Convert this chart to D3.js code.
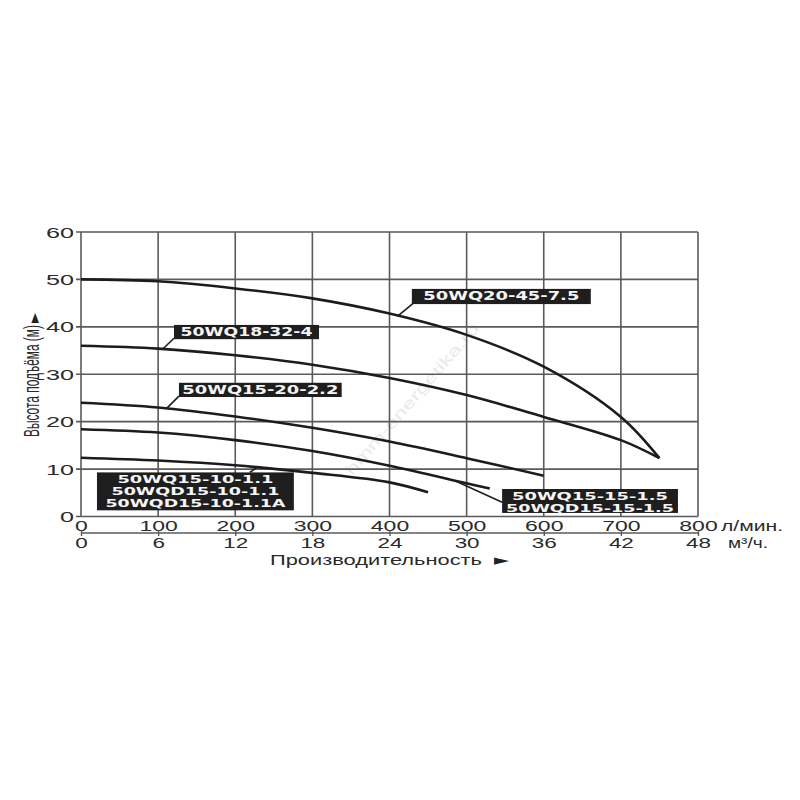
<!DOCTYPE html>
<html><head><meta charset="utf-8">
<script src="https://cdn.jsdelivr.net/npm/d3@7"></script>
<style>
html,body{margin:0;padding:0;background:#fff;}
svg{display:block;}
</style></head>
<body>
<svg id="chart" width="800" height="800"></svg>
<script>
// ---- data ----
const flowTicks = [0,100,200,300,400,500,600,700,800];      // л/мин
const m3hTicks  = [0,6,12,18,24,30,36,42,48];               // м³/ч
const headTicks = [0,10,20,30,40,50,60];                    // м

const curve1Name = "50WQ20-45-7.5";
const curve1Flow = [0,100,200,300,400,500,600,700,750];
const curve1Head = [50,49.6,48.1,46.0,42.8,38.3,31.6,21.0,12.3];

const curve2Name = "50WQ18-32-4";
const curve2Flow = [0,100,200,300,400,500,600,700,750];
const curve2Head = [36,35.4,34.0,32.0,29.2,25.6,21.0,16.1,12.3];

const curve3Name = "50WQ15-20-2.2";
const curve3Flow = [0,100,200,300,400,500,600];
const curve3Head = [24,23.0,21.1,18.7,15.8,12.3,8.6];

const curve4Names = ["50WQ15-15-1.5","50WQD15-15-1.5"];
const curve4Flow = [0,100,200,300,400,500,530];
const curve4Head = [18.4,17.7,16.1,13.8,10.7,7.0,5.9];

const curve5Names = ["50WQ15-10-1.1","50WQD15-10-1.1","50WQD15-10-1.1A"];
const curve5Flow = [0,100,200,300,400,450];
const curve5Head = [12.4,11.8,10.8,9.2,7.2,5.1];

const yTitle = "Высота подъёма (м)";
const xTitle = "Производительность";
const unitFlow = "л/мин.";
const unitM3h = "м³/ч.";
const watermark = "hmm-energetika.ru";

// ---- layout ----
const svg = d3.select("#chart");
const x = d3.scaleLinear().domain([0,800]).range([81,698]);
const y = d3.scaleLinear().domain([0,60]).range([516.5,232]);
const gridColor = "#5a5a5a";
const lineColor = "#1c1c1c";
const textColor = "#2a2a2a";
const fontSans = "'Liberation Sans', Arial, 'DejaVu Sans', sans-serif";

// watermark
svg.append("text")
  .attr("transform","translate(352,476) rotate(-49)")
  .attr("font-family",fontSans).attr("font-size",15)
  .attr("fill","#e9e9e9")
  .attr("textLength",195).attr("lengthAdjust","spacingAndGlyphs")
  .text(watermark);

// grid
const grid = svg.append("g");
grid.selectAll("line.v").data(flowTicks).join("line")
  .attr("x1",d=>x(d)).attr("x2",d=>x(d))
  .attr("y1",y(60)).attr("y2",y(0))
  .attr("stroke",gridColor).attr("stroke-width",1.6);
grid.selectAll("line.h").data(headTicks).join("line")
  .attr("x1",x(0)-5).attr("x2",x(800))
  .attr("y1",d=>y(d)).attr("y2",d=>y(d))
  .attr("stroke",gridColor).attr("stroke-width",1.6);

// y tick labels
svg.append("g").selectAll("text").data(headTicks).join("text")
  .attr("x",74).attr("y",d=>y(d)+5.5)
  .attr("text-anchor","end")
  .attr("font-family",fontSans).attr("font-size",15).attr("fill",textColor)
  .attr("textLength",d=>String(d).length*14).attr("lengthAdjust","spacingAndGlyphs")
  .text(d=>d);

// top x tick labels (л/мин)
const axTop = svg.append("g").attr("transform",`translate(0,${y(0)})`)
  .call(d3.axisBottom(x).tickValues(flowTicks).tickSize(0).tickFormat(d3.format("d")));
axTop.select(".domain").remove();
axTop.selectAll("text")
  .attr("y",14.5).attr("dy",0)
  .attr("font-family",fontSans).attr("font-size",15.5).attr("fill",textColor)
  .attr("textLength",function(d){return String(d).length*12.8;})
  .attr("lengthAdjust","spacingAndGlyphs");

// secondary axis (м³/ч)
const axBot = svg.append("g").attr("transform","translate(0,533)")
  .call(d3.axisBottom(x).tickValues(flowTicks).tickSize(3)
        .tickFormat((d,i)=>m3hTicks[i]));
axBot.select(".domain").attr("stroke",gridColor).attr("stroke-width",1.4)
  .attr("d",`M${x(0)},0H${x(800)}`);
axBot.selectAll(".tick line").attr("y1",-3).attr("y2",3)
  .attr("stroke",gridColor).attr("stroke-width",1.4);
axBot.selectAll("text")
  .attr("y",15).attr("dy",0)
  .attr("font-family",fontSans).attr("font-size",15).attr("fill",textColor)
  .attr("textLength",function(d,i){return String(m3hTicks[i]).length*12.5;})
  .attr("lengthAdjust","spacingAndGlyphs");

// units
svg.append("text").attr("x",721).attr("y",531)
  .attr("font-family",fontSans).attr("font-size",15).attr("fill",textColor)
  .attr("textLength",62).attr("lengthAdjust","spacingAndGlyphs").text(unitFlow);
svg.append("text").attr("x",728).attr("y",548)
  .attr("font-family",fontSans).attr("font-size",15).attr("fill",textColor)
  .attr("textLength",40).attr("lengthAdjust","spacingAndGlyphs").text(unitM3h);

// x title
svg.append("text").attr("x",270).attr("y",565)
  .attr("font-family",fontSans).attr("font-size",14.5).attr("fill",textColor)
  .attr("textLength",212).attr("lengthAdjust","spacingAndGlyphs").text(xTitle);
svg.append("text").attr("x",494).attr("y",565)
  .attr("font-family","'DejaVu Sans', sans-serif").attr("font-size",15).attr("fill","#222")
  .attr("textLength",15).attr("lengthAdjust","spacingAndGlyphs").text("►");

// y title (rotated, stretched across)
svg.append("text")
  .attr("transform","translate(39,437) scale(1.8,1) rotate(-90)")
  .attr("font-family",fontSans).attr("font-size",12).attr("fill",textColor)
  .attr("textLength",112).attr("lengthAdjust","spacingAndGlyphs").text(yTitle);
svg.append("text")
  .attr("transform","translate(39,323) scale(1.15,1) rotate(-90)")
  .attr("font-family","'DejaVu Sans', sans-serif").attr("font-size",13).attr("fill","#222")
  .attr("textLength",10).attr("lengthAdjust","spacingAndGlyphs").text("►");

// curves
const series = [
  {flow:curve1Flow, head:curve1Head},
  {flow:curve2Flow, head:curve2Head},
  {flow:curve3Flow, head:curve3Head},
  {flow:curve4Flow, head:curve4Head},
  {flow:curve5Flow, head:curve5Head}
];
const line = d3.line().x(d=>x(d[0])).y(d=>y(d[1])).curve(d3.curveCatmullRom.alpha(0.5));
svg.append("g").selectAll("path").data(series).join("path")
  .attr("d",s=>line(s.flow.map((f,i)=>[f,s.head[i]])))
  .attr("fill","none").attr("stroke",lineColor).attr("stroke-width",2.6)
  .attr("stroke-linecap","butt");

function headAt(s,f){
  for(let i=1;i<s.flow.length;i++){
    if(f<=s.flow[i]){
      const t=(f-s.flow[i-1])/(s.flow[i]-s.flow[i-1]);
      return s.head[i-1]+t*(s.head[i]-s.head[i-1]);
    }
  }
  return s.head[s.head.length-1];
}

// labels: box edges in data units, leader from curve flow to box anchor
const labels = [
  {s:0, lines:[curve1Name], x0:429, x1:661, top:48.0, bot:44.8, lf:411, ax:431, ay:45.0},
  {s:1, lines:[curve2Name], x0:120.6, x1:308.6, top:40.4, bot:37.4, lf:106, ax:120.6, ay:37.6},
  {s:2, lines:[curve3Name], x0:127, x1:338, top:28.2, bot:25.2, lf:111, ax:127, ay:25.4},
  {s:3, lines:curve4Names, x0:546, x1:774, top:5.8, bot:0.75, lf:485, ax:546, ay:3.0},
  {s:4, lines:curve5Names, x0:20.7, x1:276, top:9.3, bot:1.3, lf:228, ax:219, ay:9.3}
];
const lg = svg.append("g");
labels.forEach(L=>{
  const s = series[L.s];
  lg.append("line")
    .attr("x1",x(L.lf)).attr("y1",y(headAt(s,L.lf)))
    .attr("x2",x(L.ax)).attr("y2",y(L.ay))
    .attr("stroke",lineColor).attr("stroke-width",1.6);
  const bx=x(L.x0), by=y(L.top), bw=x(L.x1)-x(L.x0), bh=y(L.bot)-y(L.top);
  lg.append("rect").attr("x",bx).attr("y",by).attr("width",bw).attr("height",bh)
    .attr("fill","#1e1e1e");
  const multi = L.lines.length>1;
  L.lines.forEach((t,i)=>{
    const base = multi ? by+10.6+i*12 : by+11.5;
    lg.append("text")
      .attr("x",bx+bw/2).attr("y",base)
      .attr("text-anchor","middle")
      .attr("font-family","'DejaVu Sans', Verdana, sans-serif")
      .attr("font-weight","bold").attr("font-size",multi?10.2:13).attr("fill","#f4f4f4")
      .attr("textLength",t.length*12).attr("lengthAdjust","spacingAndGlyphs")
      .text(t);
  });
});
</script>
</body></html>
